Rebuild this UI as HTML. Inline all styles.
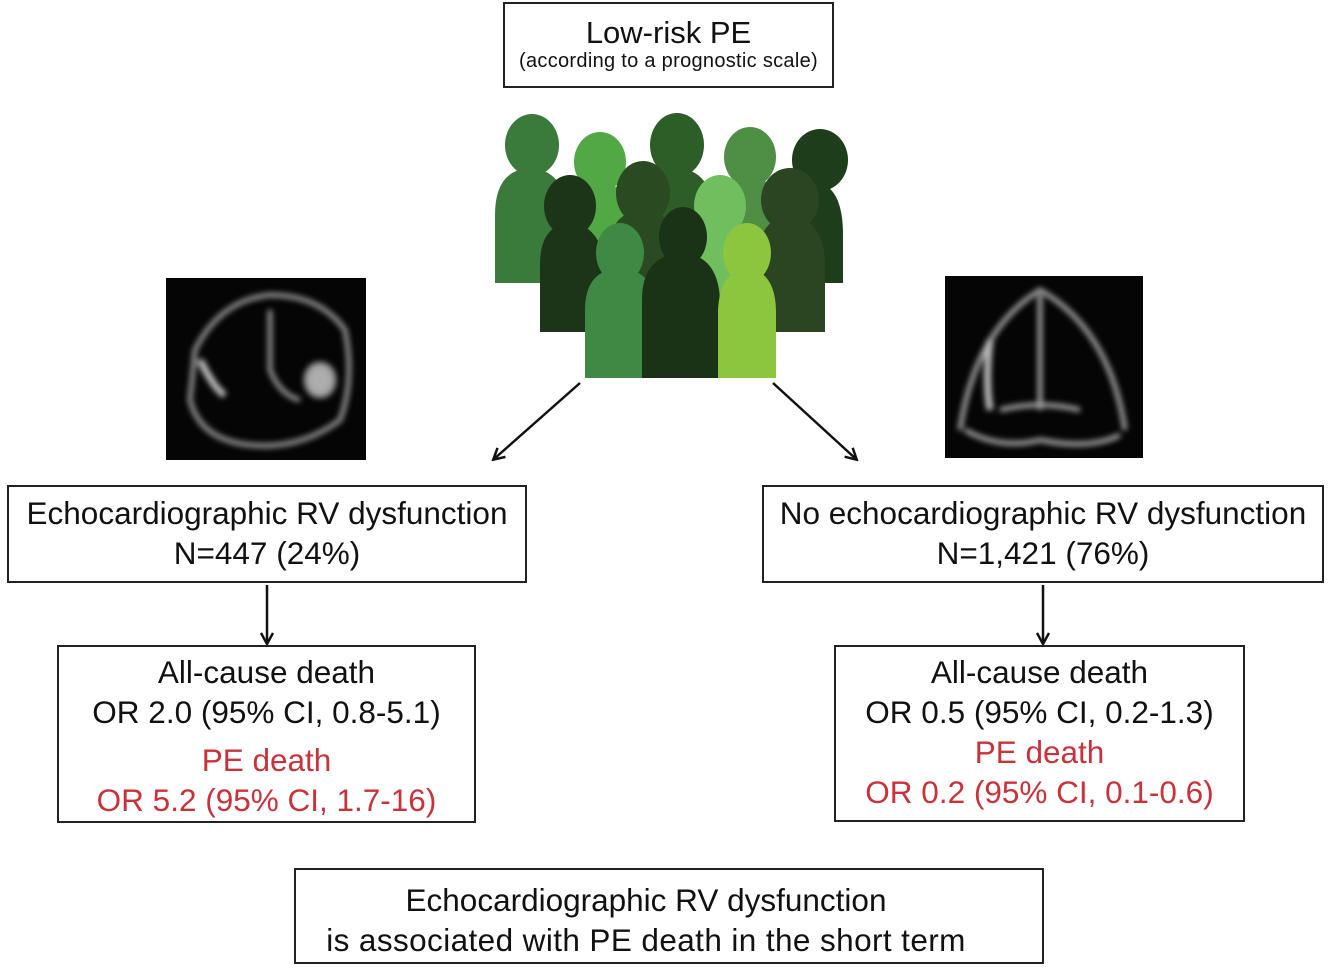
<!DOCTYPE html>
<html><head><meta charset="utf-8"><style>
body{margin:0;background:#fff;width:1333px;height:970px;overflow:hidden;position:relative;font-family:"Liberation Sans",Arial,sans-serif;}
.b{position:absolute;border:2px solid #222;box-sizing:border-box;text-align:center;color:#111;font-size:31.5px;line-height:40px;white-space:nowrap;}
.r{color:#c8323a;}
svg{position:absolute;left:0;top:0;}
</style></head><body>
<svg width="1333" height="970">
<defs>
<filter id="bl"><feGaussianBlur stdDeviation="3"/></filter>
<marker id="ah" markerWidth="14" markerHeight="14" refX="11" refY="7" orient="auto" markerUnits="userSpaceOnUse"><path d="M1,1 L12,7 L1,13" fill="none" stroke="#111" stroke-width="2.5"/></marker>
</defs>
<g>
<g fill="#3a7a3a"><ellipse cx="532" cy="145" rx="27" ry="31"/><path d="M495,283 V215 Q495,170 530,168 Q565,170 568,215 V283Z"/></g>
<g fill="#52a844"><ellipse cx="600" cy="162" rx="26" ry="30"/><path d="M565,300 V230 Q565,185 600,183 Q635,185 636,230 V300Z"/></g>
<g fill="#2e5e28"><ellipse cx="677" cy="145" rx="27" ry="32"/><path d="M640,300 V215 Q640,170 677,168 Q712,170 714,215 V300Z"/></g>
<g fill="#4f8f45"><ellipse cx="750" cy="157" rx="26" ry="30"/><path d="M715,300 V225 Q715,180 750,178 Q785,180 787,225 V300Z"/></g>
<g fill="#1e3d1a"><ellipse cx="820" cy="160" rx="28" ry="31"/><path d="M790,283 V225 Q790,185 820,183 Q843,190 843,235 V283Z"/></g>
<g fill="#1c3519"><ellipse cx="570" cy="206" rx="26" ry="31"/><path d="M540,332 V265 Q540,225 570,223 Q600,225 605,265 V332Z"/></g>
<g fill="#2a4a22"><ellipse cx="643" cy="193" rx="27" ry="32"/><path d="M608,332 V255 Q608,212 643,210 Q678,212 680,255 V332Z"/></g>
<g fill="#6fbf5e"><ellipse cx="720" cy="206" rx="26" ry="31"/><path d="M685,332 V265 Q685,225 720,223 Q755,225 758,265 V332Z"/></g>
<g fill="#2b4422"><ellipse cx="790" cy="200" rx="29" ry="32"/><path d="M758,332 V260 Q758,218 790,216 Q822,218 825,260 V332Z"/></g>
<g fill="#3e8a44"><ellipse cx="620" cy="253" rx="24" ry="30"/><path d="M585,378 V310 Q585,270 620,268 Q655,270 657,310 V378Z"/></g>
<g fill="#1a3317"><ellipse cx="683" cy="237" rx="24" ry="30"/><path d="M642,378 V300 Q642,255 682,253 Q718,255 720,300 V378Z"/></g>
<g fill="#8cc63f"><ellipse cx="747" cy="253" rx="24" ry="30"/><path d="M718,378 V310 Q720,270 748,268 Q775,272 776,310 V378Z"/></g>
</g>
<rect x="166" y="278" width="200" height="182" fill="#050505"/>
<g filter="url(#bl)" stroke="#aaa" fill="none" stroke-width="5" opacity="0.85">
<path d="M195,350 Q220,300 270,295 Q320,295 345,330 Q355,380 340,420 Q300,450 250,445 Q200,440 190,400Z"/>
<path d="M270,310 V370 Q280,395 300,400"/>
<ellipse cx="320" cy="380" rx="14" ry="16" fill="#ccc"/>
<path d="M200,360 Q215,390 225,395" stroke="#ddd" stroke-width="7"/>
</g>
<rect x="945" y="276" width="198" height="182" fill="#050505"/>
<g filter="url(#bl)" stroke="#bbb" fill="none" stroke-width="5" opacity="0.85">
<path d="M960,430 Q975,330 1040,290 Q1110,330 1125,430"/>
<path d="M1040,295 V410"/>
<path d="M1000,410 Q1040,400 1080,410"/>
<path d="M965,430 Q1000,450 1040,440 Q1090,450 1120,435"/>
<path d="M990,340 Q985,380 990,410" stroke-width="7" stroke="#ddd"/>
</g>
<g stroke="#111" stroke-width="2.5" marker-end="url(#ah)">
<line x1="580" y1="383" x2="494" y2="459"/>
<line x1="773" y1="383" x2="856" y2="459"/>
<line x1="267" y1="585" x2="267" y2="643"/>
<line x1="1043" y1="585" x2="1043" y2="643"/>
</g>
</svg>
<div class="b" style="left:503px;top:2px;width:331px;height:86px;padding-top:12px;line-height:34px;font-size:31px;">Low-risk PE<div style="font-size:20px;line-height:22px;letter-spacing:0.3px;">(according to a prognostic scale)</div></div>
<div class="b" style="left:7px;top:485px;width:520px;height:98px;padding-top:6px;">Echocardiographic RV dysfunction<br>N=447 (24%)</div>
<div class="b" style="left:762px;top:485px;width:562px;height:98px;padding-top:6px;">No echocardiographic RV dysfunction<br>N=1,421 (76%)</div>
<div class="b" style="left:57px;top:645px;width:419px;height:178px;padding-top:5px;">All-cause death<br>OR 2.0 (95% CI, 0.8-5.1)<div class="r" style="margin-top:8px;">PE death<br>OR 5.2 (95% CI, 1.7-16)</div></div>
<div class="b" style="left:834px;top:645px;width:411px;height:177px;padding-top:5px;">All-cause death<br>OR 0.5 (95% CI, 0.2-1.3)<div class="r" style="margin-top:0px;">PE death<br>OR 0.2 (95% CI, 0.1-0.6)</div></div>
<div class="b" style="left:294px;top:868px;width:750px;height:96px;padding-top:10px;padding-right:46px;">Echocardiographic RV dysfunction<br><span style="letter-spacing:0.4px;">is associated with PE death in the short term</span></div>
</body></html>
